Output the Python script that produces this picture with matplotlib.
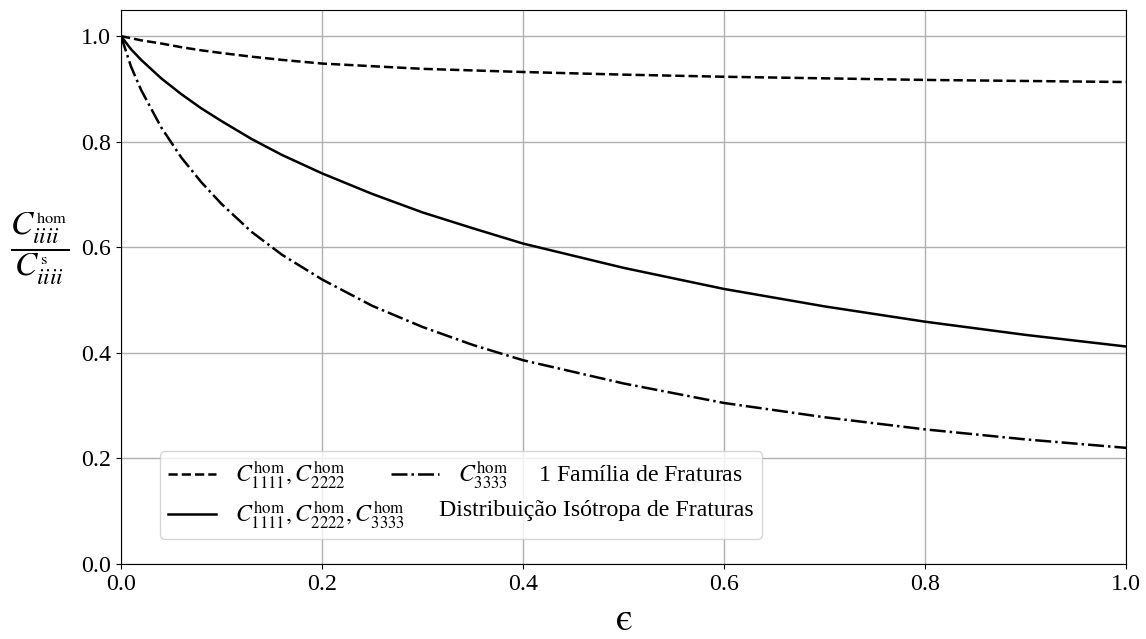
import matplotlib
matplotlib.use("Agg")
import matplotlib.pyplot as plt
from matplotlib.lines import Line2D

plt.rcParams['font.family'] = ['Liberation Serif', 'DejaVu Serif']
plt.rcParams['mathtext.fontset'] = 'stix'

# epsilon (crack density)
eps = [0.0, 0.01, 0.02, 0.04, 0.06, 0.08, 0.10, 0.13, 0.16, 0.20, 0.25,
       0.30, 0.35, 0.40, 0.50, 0.60, 0.70, 0.80, 0.90, 1.00]

# 1 familia: C1111, C2222
fam_c11 = [1.000, 0.996, 0.992, 0.986, 0.979, 0.973, 0.968, 0.961, 0.955, 0.948, 0.943,
           0.938, 0.935, 0.932, 0.927, 0.923, 0.920, 0.917, 0.915, 0.913]
# 1 familia: C3333
fam_c33 = [1.000, 0.942, 0.898, 0.827, 0.770, 0.723, 0.682, 0.629, 0.586, 0.539, 0.489,
           0.449, 0.415, 0.386, 0.342, 0.305, 0.278, 0.255, 0.236, 0.220]
# distribuicao isotropa
iso = [1.000, 0.975, 0.955, 0.920, 0.890, 0.863, 0.839, 0.805, 0.775, 0.740, 0.701,
       0.666, 0.636, 0.607, 0.561, 0.521, 0.488, 0.459, 0.434, 0.412]

fs = 17.2

fig = plt.figure(figsize=(11.46, 6.39), dpi=100)
ax = fig.add_axes([0.1056, 0.1174, 0.877, 0.8674])

l1, = ax.plot(eps, fam_c11, color='k', linestyle='--', lw=1.8)
l2, = ax.plot(eps, fam_c33, color='k', linestyle='-.', lw=1.8)
l3, = ax.plot(eps, iso, color='k', linestyle='-', lw=1.8)

ax.set_xlim(0, 1)
ax.set_ylim(0, 1.05)
ax.grid(True, color='#b0b0b0', lw=1.0)
ax.tick_params(labelsize=fs)

ax.set_xlabel('$\\mathrm{\u03f5}$', fontsize=28, labelpad=5)
ax.set_ylabel(r'$\dfrac{C^{_\mathrm{hom}}_{iiii}}{C^{_\mathrm{s}}_{iiii}}$', fontsize=24,
              rotation=0, labelpad=30)

blank = Line2D([], [], linestyle='none')
labels = [r'$C^{\mathrm{hom}}_{1111}, C^{\mathrm{hom}}_{2222}$',
          r'$C^{\mathrm{hom}}_{1111}, C^{\mathrm{hom}}_{2222}, C^{\mathrm{hom}}_{3333}$',
          r'$C^{\mathrm{hom}}_{3333}$' + '     1 Família de Fraturas',
          'Distribuição Isótropa de Fraturas']
leg = ax.legend([l1, l3, l2, blank], labels, ncol=2, fontsize=fs,
                loc='lower left', bbox_to_anchor=(0.0388, 0.045), borderaxespad=0,
                columnspacing=-0.6, labelspacing=0.33, borderpad=0.35)
# pull the second-row text of column 2 under the dash-dot handle
cols = leg._legend_handle_box.get_children()
cols[1].get_children()[1].sep = 0

plt.savefig("out.png", dpi=100)
